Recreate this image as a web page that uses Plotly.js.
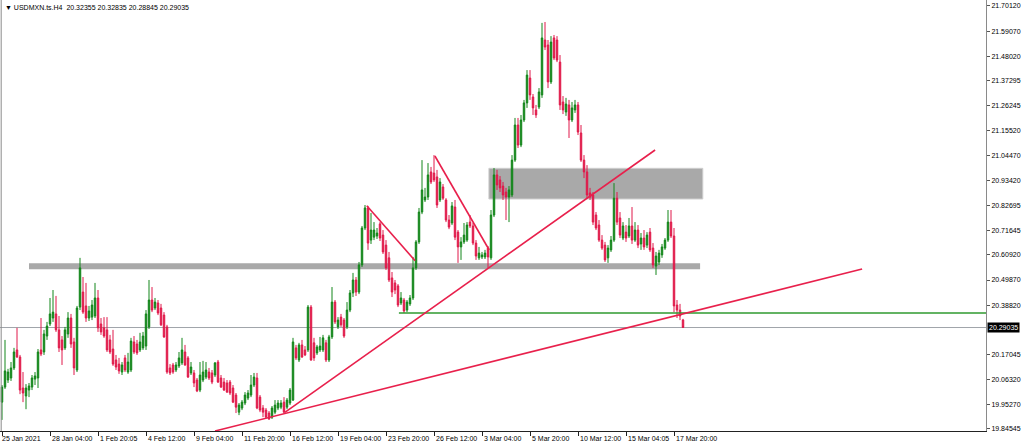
<!DOCTYPE html>
<html>
<head>
<meta charset="utf-8">
<script src="https://cdn.plot.ly/plotly-3.0.1.min.js"></script>
<style>html,body{margin:0;padding:0;background:#fff;}#chart{width:1024px;height:447px;}</style>
</head>
<body>
<div id="chart"></div>
<script>
// ---- data (USDMXN.ts H4) ----
const symbolTitle = "\u25BC USDMXN.ts.H4  20.32355 20.32835 20.28845 20.29035";
const lastPrice = 20.29035;

const open = [
19.963,20.029,20.060,20.069,20.113,20.192,20.161,20.025,19.990,20.016,
20.029,20.064,20.069,20.192,20.183,20.253,20.306,20.332,20.350,20.280,
20.236,20.201,20.262,20.332,20.227,20.104,20.380,20.446,20.385,20.332,
20.336,20.341,20.420,20.306,20.289,20.280,20.236,20.196,20.148,20.130,
20.095,20.157,20.095,20.104,20.227,20.218,20.192,20.201,20.209,20.293,
20.411,20.376,20.398,20.376,20.345,20.293,20.113,20.126,20.104,20.122,
20.135,20.183,20.157,20.091,20.091,20.060,20.016,20.060,20.073,20.095,
20.091,20.082,20.139,20.069,20.051,20.047,20.051,20.025,19.994,19.919,
19.937,19.959,19.981,19.994,20.038,20.069,19.985,19.937,19.928,19.915,
19.897,19.919,19.937,19.941,19.963,19.941,19.959,19.972,20.201,20.148,
20.214,20.192,20.192,20.380,20.223,20.179,20.192,20.192,20.223,20.148,
20.249,20.402,20.293,20.336,20.323,20.293,20.367,20.442,20.499,20.446,
20.565,20.727,20.815,20.674,20.687,20.692,20.745,20.696,20.652,20.596,
20.508,20.486,20.473,20.398,20.411,20.367,20.394,20.420,20.552,20.666,
20.797,20.850,20.863,20.973,20.968,20.951,20.850,20.907,20.850,20.762,
20.749,20.819,20.709,20.644,20.666,20.674,20.753,20.736,20.661,20.596,
20.600,20.600,20.639,20.596,20.784,20.960,20.938,20.911,20.885,20.863,
20.872,21.025,21.179,21.091,21.201,21.276,21.385,21.302,21.245,21.258,
21.311,21.552,21.530,21.368,21.561,21.552,21.455,21.280,21.236,21.267,
21.201,21.245,21.267,21.144,21.025,20.973,20.881,20.872,20.784,20.740,
20.674,20.652,20.596,20.631,20.674,20.858,20.771,20.683,20.709,20.692,
20.736,20.674,20.718,20.657,20.683,20.652,20.709,20.639,20.560,20.578,
20.609,20.639,20.674,20.753,20.692,20.389,20.367,20.32355];

const high = [
20.038,20.236,20.109,20.139,20.201,20.289,20.170,20.095,20.042,20.047,
20.082,20.095,20.196,20.332,20.280,20.315,20.420,20.455,20.429,20.341,
20.253,20.293,20.358,20.350,20.245,20.385,20.596,20.512,20.486,20.385,
20.411,20.486,20.455,20.332,20.336,20.336,20.258,20.280,20.170,20.157,
20.139,20.170,20.179,20.245,20.253,20.236,20.267,20.271,20.367,20.499,
20.468,20.420,20.411,20.394,20.358,20.302,20.130,20.135,20.139,20.183,
20.245,20.214,20.165,20.139,20.104,20.069,20.139,20.144,20.139,20.113,
20.104,20.139,20.148,20.082,20.069,20.060,20.060,20.038,20.003,19.959,
19.972,20.007,20.016,20.082,20.091,20.091,19.994,19.950,19.937,19.924,
19.946,19.972,19.972,19.972,19.985,19.981,20.025,20.245,20.214,20.223,
20.236,20.209,20.389,20.389,20.245,20.214,20.249,20.258,20.236,20.258,
20.468,20.411,20.336,20.350,20.332,20.402,20.455,20.530,20.512,20.578,
20.736,20.828,20.824,20.793,20.753,20.727,20.753,20.718,20.674,20.622,
20.534,20.499,20.481,20.446,20.420,20.411,20.433,20.600,20.674,20.815,
21.025,20.903,21.012,20.995,21.047,20.982,20.946,20.920,20.858,20.784,
20.841,20.850,20.718,20.687,20.749,20.753,20.784,20.749,20.674,20.644,
20.622,20.631,20.648,20.806,20.990,20.982,20.955,20.929,20.903,20.911,
21.047,21.210,21.210,21.223,21.289,21.420,21.420,21.315,21.267,21.341,
21.627,21.631,21.552,21.569,21.574,21.569,21.486,21.306,21.298,21.289,
21.280,21.289,21.280,21.179,21.047,21.003,20.903,20.885,20.797,20.762,
20.696,20.666,20.652,20.692,20.924,20.885,20.797,20.753,20.740,20.771,
20.819,20.753,20.740,20.705,20.718,20.709,20.727,20.661,20.622,20.631,
20.657,20.683,20.806,20.806,20.727,20.411,20.394,20.32835];

const low = [
19.885,20.021,20.047,20.056,20.104,20.157,19.998,19.963,19.932,19.985,
20.016,20.038,20.025,20.165,20.170,20.236,20.297,20.315,20.271,20.183,
20.126,20.192,20.245,20.201,20.082,20.095,20.367,20.350,20.315,20.319,
20.323,20.332,20.271,20.258,20.245,20.183,20.174,20.122,20.104,20.087,
20.082,20.095,20.087,20.095,20.174,20.170,20.183,20.192,20.192,20.284,
20.358,20.367,20.345,20.297,20.245,20.087,20.082,20.087,20.095,20.113,
20.126,20.122,20.069,20.082,20.029,20.007,20.007,20.051,20.064,20.060,
20.042,20.073,20.047,20.025,20.012,20.003,19.994,19.959,19.915,19.906,
19.928,19.950,19.972,19.985,20.029,19.932,19.919,19.897,19.893,19.885,
19.889,19.910,19.928,19.932,19.915,19.932,19.950,19.968,20.148,20.139,
20.157,20.165,20.183,20.144,20.144,20.170,20.183,20.183,20.139,20.139,
20.240,20.306,20.284,20.293,20.245,20.284,20.358,20.424,20.429,20.437,
20.556,20.718,20.631,20.657,20.674,20.679,20.670,20.613,20.543,20.490,
20.424,20.437,20.380,20.389,20.354,20.358,20.385,20.411,20.543,20.657,
20.788,20.841,20.850,20.920,20.929,20.815,20.841,20.850,20.753,20.722,
20.740,20.674,20.574,20.587,20.657,20.666,20.727,20.652,20.587,20.587,
20.591,20.591,20.552,20.587,20.775,20.894,20.885,20.850,20.762,20.753,
20.863,21.017,21.078,21.082,21.192,21.254,21.289,21.223,21.210,21.249,
21.298,21.508,21.341,21.359,21.464,21.455,21.245,21.227,21.219,21.122,
21.192,21.232,21.135,21.017,20.946,20.858,20.850,20.740,20.718,20.666,
20.631,20.578,20.574,20.622,20.666,20.740,20.683,20.674,20.666,20.683,
20.657,20.666,20.639,20.631,20.631,20.639,20.622,20.552,20.521,20.565,
20.596,20.631,20.666,20.683,20.358,20.332,20.323,20.28845];

const close = [
20.029,20.100,20.095,20.113,20.183,20.161,20.016,20.003,20.025,20.034,
20.069,20.078,20.183,20.174,20.262,20.297,20.350,20.358,20.280,20.201,
20.192,20.280,20.332,20.218,20.113,20.376,20.552,20.358,20.332,20.363,
20.389,20.420,20.289,20.271,20.253,20.192,20.183,20.130,20.117,20.100,
20.126,20.104,20.139,20.231,20.183,20.179,20.227,20.253,20.350,20.411,
20.367,20.402,20.354,20.302,20.249,20.095,20.091,20.095,20.126,20.157,
20.192,20.126,20.073,20.117,20.047,20.012,20.082,20.095,20.104,20.069,
20.051,20.135,20.051,20.029,20.016,20.007,20.003,19.963,19.941,19.950,
19.963,19.994,20.003,20.038,20.073,19.937,19.928,19.919,19.897,19.889,
19.937,19.950,19.959,19.959,19.919,19.972,20.016,20.227,20.157,20.214,
20.161,20.170,20.380,20.148,20.157,20.205,20.209,20.245,20.148,20.249,
20.402,20.315,20.323,20.302,20.253,20.367,20.442,20.499,20.446,20.565,
20.727,20.815,20.661,20.718,20.718,20.705,20.683,20.622,20.552,20.499,
20.446,20.455,20.389,20.420,20.363,20.402,20.420,20.552,20.666,20.797,
20.894,20.863,20.960,20.929,20.938,20.828,20.929,20.858,20.762,20.731,
20.824,20.687,20.644,20.666,20.696,20.740,20.736,20.661,20.604,20.617,
20.609,20.617,20.600,20.784,20.960,20.916,20.903,20.872,20.863,20.894,
21.025,21.179,21.091,21.201,21.276,21.398,21.311,21.254,21.223,21.324,
21.561,21.521,21.368,21.543,21.473,21.464,21.267,21.245,21.271,21.201,
21.254,21.267,21.148,21.025,20.973,20.872,20.863,20.753,20.727,20.674,
20.639,20.587,20.639,20.674,20.858,20.753,20.696,20.736,20.683,20.736,
20.674,20.718,20.652,20.683,20.644,20.696,20.631,20.565,20.604,20.617,
20.644,20.674,20.753,20.692,20.385,20.367,20.341,20.29035];

// time-axis labels (every 16 bars)
const xTickIdx = [0,16,32,48,64,80,96,112,128,144,160,176,192,208,224];
const xTickText = ["25 Jan 2021","28 Jan 04:00","1 Feb 20:05","4 Feb 12:00","9 Feb 04:00",
  "11 Feb 20:00","16 Feb 12:00","19 Feb 04:00","23 Feb 20:00","26 Feb 12:00",
  "3 Mar 04:00","5 Mar 20:00","10 Mar 12:00","15 Mar 04:05","17 Mar 20:00"];

// price-axis labels
const yTickVals = [21.70120,21.59070,21.48020,21.37295,21.26245,21.15520,21.04470,20.93420,
  20.82695,20.71645,20.60920,20.49870,20.38820,20.17045,20.06320,19.95270,19.84545];

// drawn objects (support/resistance and trend lines), in bar index / price
const supportBand = {x0: 9, x1: 232.7, y0: 20.5458, y1: 20.5721};
const resistBox = {x0: 162.3, x1: 233.6, y0: 20.8543, y1: 20.9890};
const greenLevel = {x0: 132.3, y: 20.3540};
const trendLines = [
  {x0: 71.0, y0: 19.8363, x1: 286.7, y1: 20.5471},
  {x0: 94.3, y0: 19.9183, x1: 217.7, y1: 21.0693},
  {x0: 121.6, y0: 20.8249, x1: 137.7, y1: 20.5836},
  {x0: 144.3, y0: 21.0430, x1: 162.4, y1: 20.6305}
];

// ---- build ----
const idx = close.map((_, i) => i);
const FONT = "Liberation Sans, Arial, sans-serif";

const trace = {
  type: 'candlestick',
  x: idx, open: open, high: high, low: low, close: close,
  increasing: {line: {color: '#13861a', width: 1}, fillcolor: '#13861a'},
  decreasing: {line: {color: '#e0194a', width: 1}, fillcolor: '#e0194a'},
  whiskerwidth: 0,
  hoverinfo: 'skip'
};

const shapes = [];
shapes.push({type:'rect', xref:'x', yref:'y', x0:supportBand.x0, x1:supportBand.x1, y0:supportBand.y0, y1:supportBand.y1,
  fillcolor:'#a9a9a9', line:{width:0}, layer:'below'});
shapes.push({type:'rect', xref:'x', yref:'y', x0:resistBox.x0, x1:resistBox.x1, y0:resistBox.y0, y1:resistBox.y1,
  fillcolor:'#a9a9a9', line:{width:1, color:'#cfcfcf'}, layer:'below'});
shapes.push({type:'line', xref:'paper', yref:'y', x0:0, x1:1, y0:lastPrice, y1:lastPrice,
  line:{color:'#a0a4aa', width:1}, layer:'below'});
shapes.push({type:'line', xref:'x', yref:'y', x0:greenLevel.x0, x1:328, y0:greenLevel.y, y1:greenLevel.y,
  line:{color:'#2f9a2f', width:1.6}});
trendLines.forEach(t => shapes.push({type:'line', xref:'x', yref:'y', x0:t.x0, y0:t.y0, x1:t.x1, y1:t.y1,
  line:{color:'#e8204c', width:1.6}}));
shapes.push({type:'line', xref:'paper', yref:'paper', x0:0.0012, x1:0.0012, y0:0, y1:1, line:{color:'#8a8a8a', width:1}});

const annotations = [];
annotations.push({xref:'paper', yref:'paper', x:0, y:1, xanchor:'left', yanchor:'top', xshift:3, yshift:-2,
  text:symbolTitle, showarrow:false, font:{family:FONT, size:7, color:'#000'}});
xTickIdx.forEach((v, k) => annotations.push({xref:'x', yref:'paper', x:v, y:0, xanchor:'left', yanchor:'top',
  xshift: k === 0 ? -2 : 0, yshift:-2, text:xTickText[k], showarrow:false, font:{family:FONT, size:7, color:'#000'}}));
annotations.push({xref:'paper', yref:'y', x:1, y:lastPrice, xanchor:'left', yanchor:'middle', xshift:1,
  text:lastPrice.toFixed(5), showarrow:false, bgcolor:'#000', borderpad:1,
  font:{family:FONT, size:7, color:'#fff'}});

const layout = {
  width: 1024, height: 447,
  margin: {l:0, r:38, t:0, b:16, pad:0},
  paper_bgcolor: '#fff', plot_bgcolor: '#fff',
  showlegend: false,
  xaxis: {range:[-0.667, 328], showgrid:false, zeroline:false, showline:true, linecolor:'#222', linewidth:1,
    ticks:'outside', ticklen:4, tickcolor:'#222', tickvals:xTickIdx, showticklabels:false,
    rangeslider:{visible:false}, fixedrange:true},
  yaxis: {side:'right', range:[19.8363, 21.7275], showgrid:false, zeroline:false, showline:true,
    linecolor:'#8a8a8a', linewidth:1, ticks:'outside', ticklen:3, tickcolor:'#555',
    tickvals:yTickVals, ticktext:yTickVals.map(v => v.toFixed(5)),
    tickfont:{family:FONT, size:7, color:'#000'}, fixedrange:true},
  shapes: shapes,
  annotations: annotations
};

Plotly.newPlot('chart', [trace], layout, {staticPlot:true, displayModeBar:false});
</script>
</body>
</html>
